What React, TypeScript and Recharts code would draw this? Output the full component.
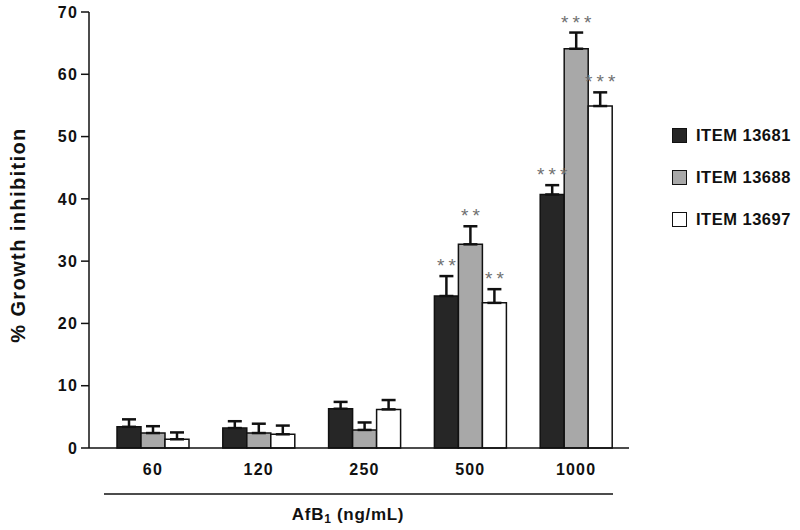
import React from 'react';
import { BarChart, Bar, XAxis, YAxis, ErrorBar, LabelList } from 'recharts';

const categories = ['60', '120', '250', '500', '1000'];
const item13681 = [3.4, 3.2, 6.3, 24.4, 40.7];
const item13681Err = [1.2, 1.1, 1.1, 3.2, 1.5];
const item13688 = [2.4, 2.4, 2.9, 32.7, 64.1];
const item13688Err = [1.1, 1.5, 1.2, 2.9, 2.6];
const item13697 = [1.4, 2.2, 6.2, 23.3, 54.9];
const item13697Err = [1.1, 1.4, 1.5, 2.2, 2.2];
const stars13681 = ['', '', '', '**', '***'];
const stars13688 = ['', '', '', '**', '***'];
const stars13697 = ['', '', '', '**', '***'];
const yTicks = [0, 10, 20, 30, 40, 50, 60, 70];

const seriesNames = ['ITEM 13681', 'ITEM 13688', 'ITEM 13697'];
const seriesColors = ['#262626', '#a8a8a8', '#ffffff'];

const FONT = '"Liberation Sans", Arial, Helvetica, sans-serif';

const data = categories.map((c, i) => ({
  dose: c,
  a: item13681[i],
  aErr: [0, item13681Err[i]],
  aStar: stars13681[i],
  b: item13688[i],
  bErr: [0, item13688Err[i]],
  bStar: stars13688[i],
  c: item13697[i],
  cErr: [0, item13697Err[i]],
  cStar: stars13697[i],
}));

const makeStarLabel = (vals: number[], errs: number[]) => (props: any) => {
  const { x, y, width, height, value, index } = props;
  if (!value) return null;
  const v = vals[index];
  const pxPerUnit = v ? height / v : 0;
  const errTop = y - errs[index] * pxPerUnit;
  return (
    <text
      x={x + width / 2 + 2}
      y={errTop - 4}
      textAnchor="middle"
      fill="#707070"
      fontSize={19}
      letterSpacing={4}
      fontFamily={FONT}
    >
      {value}
    </text>
  );
};

const LegendBox = () => (
  <div style={{ position: 'absolute', left: 672, top: 114, fontFamily: FONT }}>
    {seriesNames.map((n, i) => (
      <div key={n} style={{ display: 'flex', alignItems: 'center', height: 42 }}>
        <div
          style={{
            width: 13,
            height: 13,
            background: seriesColors[i],
            border: '1.5px solid #111',
            marginRight: 9,
          }}
        />
        <span style={{ fontWeight: 'bold', fontSize: 16.5, color: '#111', letterSpacing: 0.5 }}>{n}</span>
      </div>
    ))}
  </div>
);

const XLabel = () => (
  <g>
    <line x1={104} x2={613} y1={494} y2={494} stroke="#111" strokeWidth={1.5} />
    <text x={348} y={520} textAnchor="middle" fontFamily={FONT} fontWeight="bold" fontSize={17} letterSpacing={0.7} fill="#111">
      AfB
      <tspan fontSize={12} dy={3}>1</tspan>
      <tspan dy={-3}> (ng/mL)</tspan>
    </text>
  </g>
);

const YLabel = () => (
  <text
    x={18}
    y={235}
    transform="rotate(-90 18 235)"
    textAnchor="middle"
    dominantBaseline="central"
    fontFamily={FONT}
    fontWeight="bold"
    fontSize={20}
    letterSpacing={1.4}
    fill="#111"
  >
    % Growth inhibition
  </text>
);

const tickStyle = { fill: '#111', fontSize: 16, fontWeight: 'bold', fontFamily: FONT, letterSpacing: 1.2 };

export default function App() {
  return (
    <div style={{ position: 'absolute', left: 0, top: 0, width: 800, height: 530, background: '#fff' }}>
      <BarChart
        width={800}
        height={530}
        data={data}
        margin={{ top: 12, right: 171, bottom: 0, left: 0 }}
        barGap={0}
        barSize={24}
      >
        <XAxis
          dataKey="dose"
          height={82}
          padding={{ left: 11, right: 0 }}
          tickLine={false}
          tickSize={0}
          tickMargin={16}
          axisLine={{ stroke: '#111', strokeWidth: 1.5 }}
          tick={tickStyle}
          label={<XLabel />}
        />
        <YAxis
          width={89}
          domain={[0, 70]}
          ticks={yTicks}
          tickSize={8}
          tickMargin={3}
          axisLine={{ stroke: '#111', strokeWidth: 1.5 }}
          tickLine={{ stroke: '#111', strokeWidth: 1.5 }}
          tick={tickStyle}
          label={<YLabel />}
        />
        <Bar dataKey="a" name={seriesNames[0]} fill={seriesColors[0]} stroke="#111" strokeWidth={1.5} isAnimationActive={false}>
          <ErrorBar dataKey="aErr" direction="y" width={7} stroke="#111" strokeWidth={2.5} />
          <LabelList dataKey="aStar" content={makeStarLabel(item13681, item13681Err)} />
        </Bar>
        <Bar dataKey="b" name={seriesNames[1]} fill={seriesColors[1]} stroke="#111" strokeWidth={1.5} isAnimationActive={false}>
          <ErrorBar dataKey="bErr" direction="y" width={7} stroke="#111" strokeWidth={2.5} />
          <LabelList dataKey="bStar" content={makeStarLabel(item13688, item13688Err)} />
        </Bar>
        <Bar dataKey="c" name={seriesNames[2]} fill={seriesColors[2]} stroke="#111" strokeWidth={1.5} isAnimationActive={false}>
          <ErrorBar dataKey="cErr" direction="y" width={7} stroke="#111" strokeWidth={2.5} />
          <LabelList dataKey="cStar" content={makeStarLabel(item13697, item13697Err)} />
        </Bar>
      </BarChart>
      <LegendBox />
    </div>
  );
}
